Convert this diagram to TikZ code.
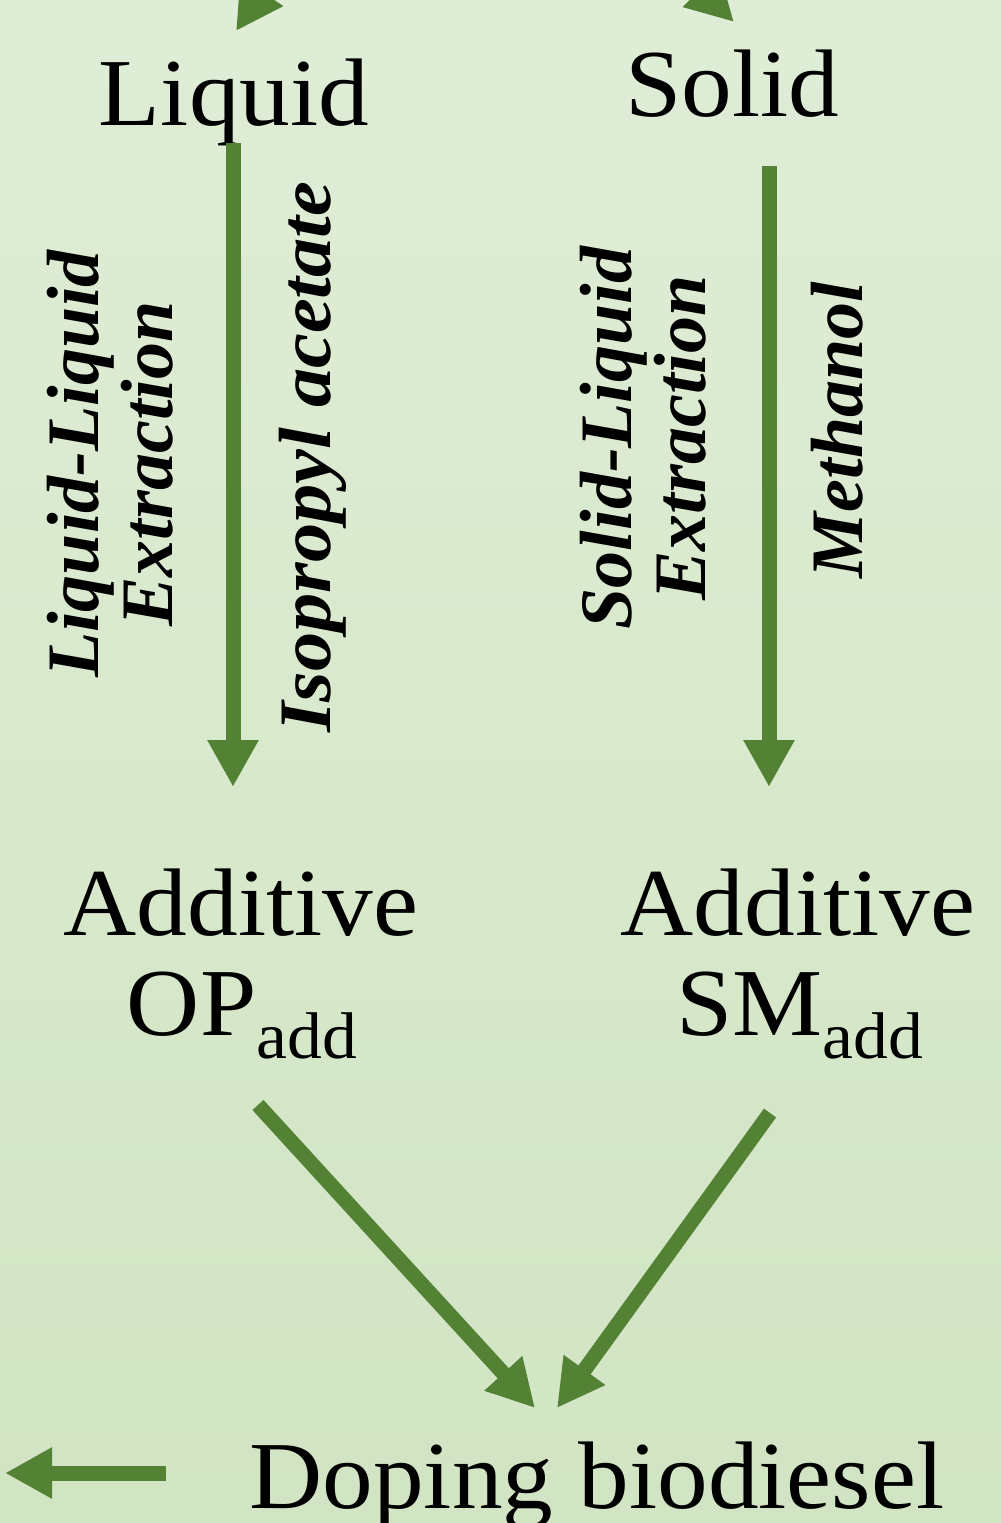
\documentclass[tikz,border=0pt]{standalone}
\usepackage{fontspec}
\setmainfont{Liberation Serif}
\newfontfamily\lblfont{Liberation Serif}[FakeStretch=1.055]
\usetikzlibrary{arrows.meta}
\definecolor{arrgreen}{HTML}{548235}
\definecolor{bgtop}{HTML}{DFEDD6}
\definecolor{bgbot}{HTML}{D1E4C3}
\newcommand{\subadd}[1]{{\fontsize{33pt}{33pt}\selectfont\raisebox{-11.5pt}{#1}}}
\begin{document}
\begin{tikzpicture}[x=0.5pt,y=-0.5pt,
  lbl/.style={font=\lblfont\fontsize{48pt}{50pt}\selectfont, inner sep=0pt, anchor=base},
  rot/.style={font=\fontsize{37pt}{37pt}\selectfont\bfseries\itshape, rotate=90, inner sep=0pt, align=center},
  arr/.style={draw=arrgreen, fill=arrgreen, line width=7.5pt, -{Triangle[length=23.5pt,width=24pt]}}]
\useasboundingbox (0,0) rectangle (1001,1523);
\shade[top color=bgtop, bottom color=bgbot] (0,0) rectangle (1001,1523);

% text nodes
\node[lbl] (liq) at (234,125) {Liquid};
\node[lbl] (sol) at (732,116) {Solid};
\node[lbl] (addL) at (241,935) {Additive};
\node[lbl] (opL) at (242,1035) {OP\subadd{add}};
\node[lbl] (addR) at (798,935) {Additive};
\node[lbl] (smR) at (800,1035) {SM\subadd{add}};
\node[lbl] (dop) at (597,1508) {Doping biodiesel};

\node[rot] (lle) at (110,464) {Liquid-Liquid\\Extraction};
\node[rot, anchor=base] (iso) at (330,457) {\scalebox{1.06}[1]{Isopropyl acetate}};
\node[rot] (sle) at (643,438) {Solid-Liquid\\Extraction};
\node[rot, anchor=base] (meth) at (862,430) {Methanol};

% free ends
\coordinate (srcL) at (336,-120);
\coordinate (srcR) at (584,-128);
\coordinate (outL) at (5,1473);

% top arrows (clipped at the picture border)
\begin{scope}
\clip (0,0) rectangle (1001,1523);
\draw[arr] (srcL) -- ([shift={(2,-94)}]liq.base);
\draw[arr] (srcR) -- ([shift={(2,-94)}]sol.base);
\end{scope}

% vertical arrows
\draw[arr] ([shift={(-1,18)}]liq.base) -- ([shift={(-8,-148)}]addL.base);
\draw[arr] ([shift={(37,50)}]sol.base) -- ([shift={(-29,-148)}]addR.base);

% converging arrows
\draw[arr] ([shift={(16,70)}]opL.base) -- ([shift={(-62,-100)}]dop.base);
\draw[arr] ([shift={(-30,78)}]smR.base) -- ([shift={(-40,-100)}]dop.base);

% outgoing arrow
\draw[arr] ([shift={(-431,-35)}]dop.base) -- (outL);
\end{tikzpicture}
\end{document}
